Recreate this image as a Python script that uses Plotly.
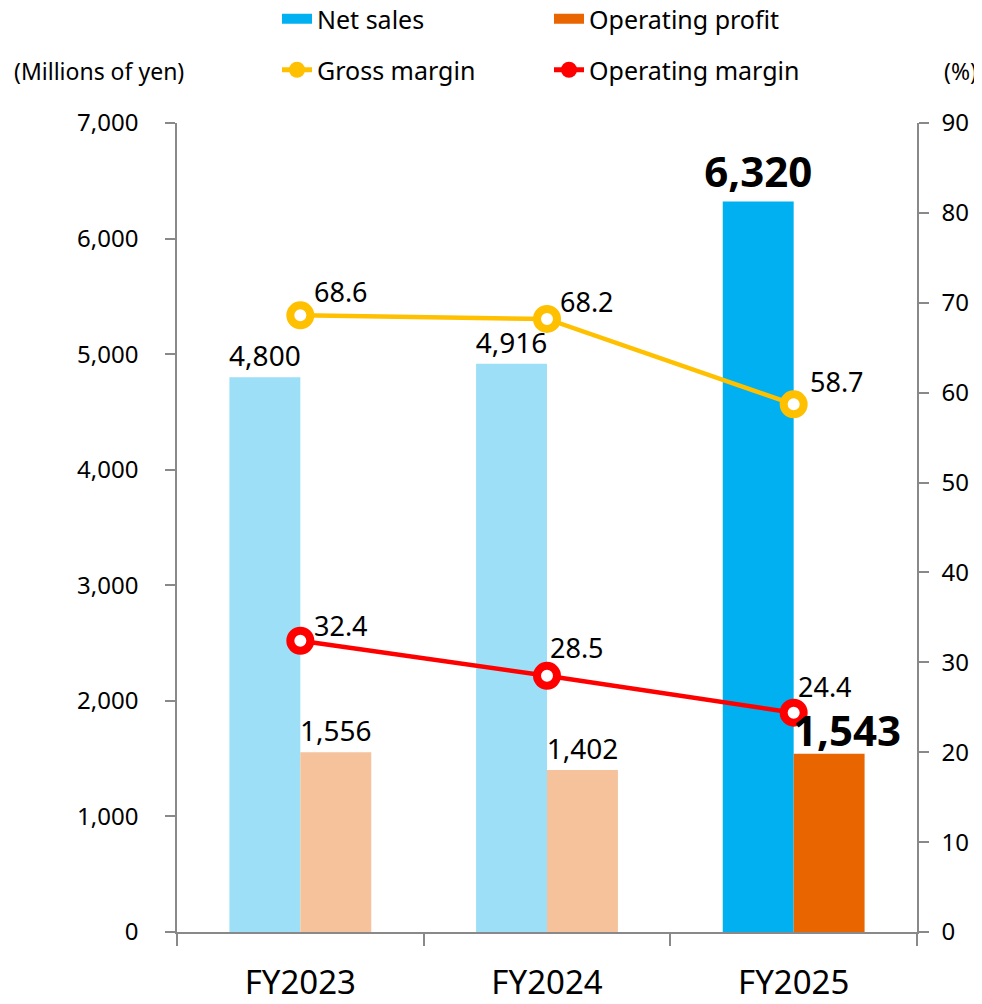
import plotly.graph_objects as go

categories = ["FY2023", "FY2024", "FY2025"]
net_sales = [4800, 4916, 6320]
operating_profit = [1556, 1402, 1543]
gross_margin = [68.6, 68.2, 58.7]
operating_margin = [32.4, 28.5, 24.4]

FONT = "Noto Sans"
GRAY = "#898989"
NS_LIGHT, NS_DARK = "#9CDFF7", "#00B0F0"
OP_LIGHT, OP_DARK = "#F5C29C", "#E96500"
GM_COLOR, OM_COLOR = "#FFC000", "#FF0000"

# the page adds an 8px body margin; lay out in page pixels and convert
OFF = 8
PAGE_W, PAGE_H = 982, 1004
W, H = PAGE_W - OFF, PAGE_H - 2 * OFF
PL, PR, PT, PB = 177, 917, 123, 932            # plot area in page pixels
ML, MT = PL - OFF, PT - OFF
MR, MB = W - (PR - OFF), H - (PB - OFF)
PW, PH = PR - PL, PB - PT

def px_x(x):
    return (x - PL) / PW

def px_y(y):
    return (PB - y) / PH

def fmt(v):
    return f"{v:,}"

fig = go.Figure()

bar_common = dict(textposition="outside", cliponaxis=False, constraintext="none",
                  showlegend=False)

# Net sales: past years (light) and latest year (dark) share one offset group
fig.add_trace(go.Bar(
    x=categories[:2], y=net_sales[:2], offsetgroup="ns", name="Net sales",
    marker=dict(color=NS_LIGHT, line=dict(width=0)),
    text=[fmt(v) for v in net_sales[:2]],
    textfont=dict(size=28, color="black", family=FONT), **bar_common,
))
fig.add_trace(go.Bar(
    x=categories[2:], y=net_sales[2:], offsetgroup="ns", name="Net sales",
    marker=dict(color=NS_DARK, line=dict(width=0)),
    text=[f"<b>{fmt(v)}</b>" for v in net_sales[2:]],
    textfont=dict(size=42, color="black", family=FONT), **bar_common,
))
fig.add_trace(go.Bar(
    x=categories[:2], y=operating_profit[:2], offsetgroup="op", name="Operating profit",
    marker=dict(color=OP_LIGHT, line=dict(width=0)),
    text=[fmt(v) for v in operating_profit[:2]],
    textfont=dict(size=28, color="black", family=FONT), **bar_common,
))
fig.add_trace(go.Bar(
    x=categories[2:], y=operating_profit[2:], offsetgroup="op", name="Operating profit",
    marker=dict(color=OP_DARK, line=dict(width=0)), showlegend=False,
))
# latest operating profit label, nudged right of the bar (clear of the marker)
fig.add_annotation(x=categories[2], y=operating_profit[2], xref="x", yref="y",
                   text=f"<b>{fmt(operating_profit[2])}</b>", showarrow=False,
                   xanchor="center", yanchor="bottom", xshift=53, yshift=-6,
                   font=dict(size=42, color="black", family=FONT))

for name, vals, col in [("Gross margin", gross_margin, GM_COLOR),
                        ("Operating margin", operating_margin, OM_COLOR)]:
    fig.add_trace(go.Scatter(
        x=categories, y=vals, name=name, yaxis="y2", mode="lines+markers",
        line=dict(color=col, width=4.5),
        marker=dict(size=20, color="white", line=dict(color=col, width=8)),
        showlegend=False, cliponaxis=False,
    ))

# legend entries (swatches styled like the reference legend)
for name, col in [("Net sales", NS_DARK), ("Operating profit", OP_DARK)]:
    fig.add_trace(go.Scatter(x=[None], y=[None], name=name, mode="lines",
                             line=dict(color=col, width=16), legend="legend"))
for name, col in [("Gross margin", GM_COLOR), ("Operating margin", OM_COLOR)]:
    fig.add_trace(go.Scatter(x=[None], y=[None], name=name, mode="lines+markers",
                             line=dict(color=col, width=5),
                             marker=dict(size=16, color=col), legend="legend2"))

# line value labels (offsets in px from the marker)
gm_offsets = [(12, 24), (11, 17), (14, 23)]
om_offsets = [(12, 15), (1, 28), (2, 26)]
for vals, offs in [(gross_margin, gm_offsets), (operating_margin, om_offsets)]:
    for c, v, (dx, dy) in zip(categories, vals, offs):
        fig.add_annotation(x=c, y=v, xref="x", yref="y2", text=f"{v:.1f}",
                           showarrow=False, xanchor="left", yanchor="middle",
                           xshift=dx, yshift=dy,
                           font=dict(size=27, color="black", family=FONT))

fig.add_annotation(xref="paper", yref="paper", x=px_x(12), y=px_y(71),
                   xanchor="left", yanchor="middle", text="(Millions of yen)",
                   showarrow=False, font=dict(size=23, color="black", family=FONT))
fig.add_annotation(xref="paper", yref="paper", x=px_x(979), y=px_y(71),
                   xanchor="right", yanchor="middle", text="(%)",
                   showarrow=False, font=dict(size=23, color="black", family=FONT))

axis_common = dict(showline=True, linecolor=GRAY, linewidth=1.5, ticks="outside",
                   tickcolor=GRAY, tickwidth=1.5, showgrid=False, zeroline=False,
                   automargin=False,
                   tickfont=dict(size=24, color="black", family=FONT))

legend_common = dict(orientation="h", xref="container", yref="container",
                     x=(277 - OFF) / W, xanchor="left", yanchor="middle",
                     entrywidth=227, font=dict(size=25, color="black", family=FONT),
                     bgcolor="rgba(0,0,0,0)", traceorder="normal")

fig.update_layout(
    width=W, height=H,
    margin=dict(l=ML, r=MR, t=MT, b=MB, autoexpand=False),
    paper_bgcolor="white", plot_bgcolor="white",
    barmode="group", bargap=0.425, bargroupgap=0,
    font=dict(family=FONT, color="black"),
    xaxis=dict(showline=True, linecolor=GRAY, linewidth=1.5, ticks="outside",
               tickcolor=GRAY, tickwidth=1.5, ticklen=12, tickson="boundaries",
               showgrid=False, automargin=False,
               tickfont=dict(size=33, color="black", family=FONT),
               ticklabelstandoff=21),
    yaxis=dict(range=[0, 7000], dtick=1000, tickformat=",", ticklen=10,
               ticklabelstandoff=22, **axis_common),
    yaxis2=dict(range=[0, 90], dtick=10, overlaying="y", side="right", ticklen=10,
                ticklabelstandoff=8, **axis_common),
    legend=dict(y=1 - (19 - OFF) / H, **legend_common),
    legend2=dict(y=1 - (70 - OFF) / H, **legend_common),
)

fig.write_html("out.html")
